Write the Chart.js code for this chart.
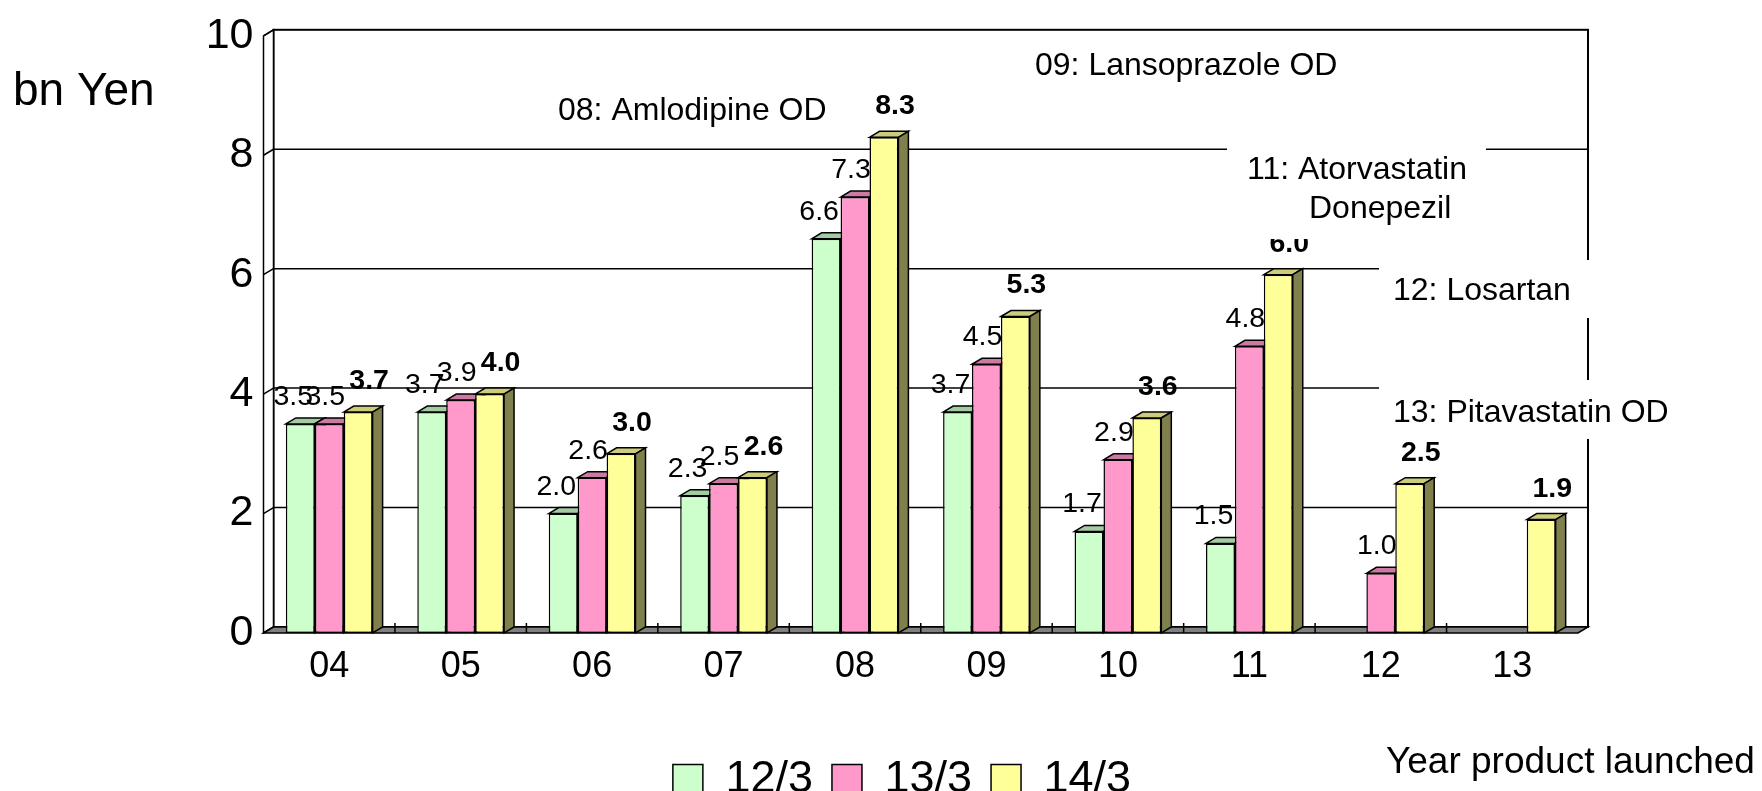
<!DOCTYPE html>
<html>
<head>
<meta charset="utf-8">
<title>Sales by launch year</title>
<script src="https://cdn.jsdelivr.net/npm/chart.js@4.4.0/dist/chart.umd.min.js"></script>
<style>
  html, body { margin: 0; padding: 0; background: #fff; overflow: hidden; }
  #wrap { width: 1762px; height: 812px; position: relative; }
</style>
</head>
<body>
<div id="wrap"><canvas id="chart"></canvas></div>
<script>
// datos
const categories = ['04', '05', '06', '07', '08', '09', '10', '11', '12', '13'];
const seriesNames = ['12/3', '13/3', '14/3'];
const fy12 = [3.5, 3.7, 2.0, 2.3, 6.6, 3.7, 1.7, 1.5, null, null];
const fy13 = [3.5, 3.9, 2.6, 2.5, 7.3, 4.5, 2.9, 4.8, 1.0, null];
const fy14 = [3.7, 4.0, 3.0, 2.6, 8.3, 5.3, 3.6, 6.0, 2.5, 1.9];
const yTicks = [0, 2, 4, 6, 8, 10];

// colores: frente, tapa, lateral
const fronts = ['#CCFFCC', '#FF99CC', '#FFFF99'];
const tops = ['#A3CCA3', '#CC7AA3', '#CCCC7A'];
const sides = ['#668066', '#804D66', '#80804D'];

const FONT = "'Liberation Sans', Arial, Helvetica, sans-serif";
const DX = 10, DY = 6;            // profundidad 3D
const labelShift = [-7, -4, 11];  // desplazamiento horizontal de etiquetas por serie
const labelLift = [19, 19, 23];   // altura de la etiqueta sobre la barra

// cuadros de texto
const notes = [
  { box: [536, 77, 270, 56], lines: [['08: Amlodipine OD', 558, 119.5]] },
  { box: [1013, 33, 350, 57], lines: [['09: Lansoprazole OD', 1035, 74.5]] },
  { box: [1227, 138, 259, 101], lines: [['11: Atorvastatin', 1247, 179], ['Donepezil', 1309, 217.5]] },
  { box: [1379, 260, 219, 58], lines: [['12: Losartan', 1393, 300]] },
  { box: [1379, 380, 310, 59], lines: [['13: Pitavastatin OD', 1393, 422]] }
];

function poly(ctx, pts, fill) {
  ctx.beginPath();
  ctx.moveTo(pts[0][0], pts[0][1]);
  for (let k = 1; k < pts.length; k++) ctx.lineTo(pts[k][0], pts[k][1]);
  ctx.closePath();
  if (fill) { ctx.fillStyle = fill; ctx.fill(); }
  ctx.stroke();
}

function line(ctx, x1, y1, x2, y2) {
  ctx.beginPath();
  ctx.moveTo(x1, y1);
  ctx.lineTo(x2, y2);
  ctx.stroke();
}

const box3d = {
  id: 'box3d',
  afterLayout(chart) {
    // leyenda un poco a la derecha, como en el original
    if (chart.legend) {
      chart.legend.left += 14;
      chart.legend.right += 14;
    }
  },
  beforeDatasetsDraw(chart) {
    const { ctx, chartArea: a, scales: { x, y } } = chart;
    const y0 = y.getPixelForValue(0), y10 = y.getPixelForValue(10);
    ctx.save();
    ctx.strokeStyle = '#000';
    ctx.lineWidth = 2;
    // pared del fondo
    ctx.strokeRect(a.left + DX, y10 - DY, a.right - a.left, y0 - y10);
    ctx.lineWidth = 1.5;
    yTicks.forEach(v => {
      if (v > 0 && v < 10) {
        const py = y.getPixelForValue(v) - DY;
        line(ctx, a.left + DX, py, a.right + DX, py);
      }
    });
    // pared izquierda
    poly(ctx, [[a.left, y10], [a.left + DX, y10 - DY], [a.left + DX, y0 - DY], [a.left, y0]], '#fff');
    yTicks.forEach(v => {
      const py = y.getPixelForValue(v);
      line(ctx, a.left, py, a.left + DX, py - DY);
    });
    // piso
    poly(ctx, [[a.left, y0], [a.left + DX, y0 - DY], [a.right + DX, y0 - DY], [a.right, y0]], '#808080');
    for (let i = 1; i < categories.length; i++) {
      const xb = (x.getPixelForValue(i - 1) + x.getPixelForValue(i)) / 2;
      line(ctx, xb, y0 - DY - 4, xb, y0);
    }
    // caras 3D y etiquetas
    ctx.lineWidth = 1.5;
    for (let i = 0; i < categories.length; i++) {
      chart.data.datasets.forEach((ds, d) => {
        const v = ds.data[i];
        if (v === null || v === undefined) return;
        const el = chart.getDatasetMeta(d).data[i];
        const xl = el.x - el.width / 2, xr = el.x + el.width / 2;
        const t = el.y, b = el.base;
        poly(ctx, [[xl, t], [xl + DX, t - DY], [xr + DX, t - DY], [xr, t]], tops[d]);
        poly(ctx, [[xr, t], [xr + DX, t - DY], [xr + DX, b - DY], [xr, b]], sides[d]);
        ctx.fillStyle = '#000';
        ctx.font = (d === 2 ? 'bold ' : '') + '28.5px ' + FONT;
        ctx.textAlign = 'center';
        ctx.textBaseline = 'alphabetic';
        ctx.fillText(v.toFixed(1), el.x + labelShift[d], t - labelLift[d]);
      });
    }
    ctx.restore();
  },
  afterDatasetsDraw(chart) {
    const { ctx } = chart;
    ctx.save();
    ctx.textAlign = 'left';
    ctx.textBaseline = 'alphabetic';
    notes.forEach(n => {
      ctx.fillStyle = '#fff';
      ctx.fillRect(n.box[0], n.box[1], n.box[2], n.box[3]);
      ctx.fillStyle = '#000';
      ctx.font = '32px ' + FONT;
      n.lines.forEach(l => ctx.fillText(l[0], l[1], l[2]));
    });
    ctx.fillStyle = '#000';
    ctx.font = '46px ' + FONT;
    ctx.fillText('bn Yen', 13, 105);
    ctx.font = '37px ' + FONT;
    ctx.fillText('Year product launched', 1386, 773);
    ctx.restore();
  }
};

const data1 = {
  labels: categories,
  datasets: [fy12, fy13, fy14].map((vals, d) => ({
    label: seriesNames[d],
    data: vals,
    backgroundColor: fronts[d],
    borderColor: '#000',
    borderWidth: 1.5,
    borderSkipped: false
  }))
};

const options1 = {
  responsive: true,
  maintainAspectRatio: false,
  animation: false,
  layout: { padding: { left: 198, right: 184, top: 31.7, bottom: 0 } },
  datasets: { bar: { categoryPercentage: 0.66, barPercentage: 1.0 } },
  scales: {
    x: {
      grid: { display: false, drawTicks: false },
      border: { display: false },
      ticks: { color: '#000', font: { family: FONT, size: 36 }, padding: 12, maxRotation: 0 },
      afterFit(scale) { scale.height = 105; }
    },
    y: {
      min: 0,
      max: 10,
      grid: { display: false, drawTicks: false },
      border: { display: false },
      ticks: { color: '#000', font: { family: FONT, size: 43 }, padding: 10 },
      afterBuildTicks(scale) { scale.ticks = yTicks.map(v => ({ value: v })); },
      afterFit(scale) { scale.width = 65.5; }
    }
  },
  plugins: {
    legend: {
      position: 'bottom',
      labels: {
        color: '#000',
        font: { family: FONT, size: 45 },
        boxWidth: 30,
        boxHeight: 30,
        padding: 19,
        sort: (a, b) => a.datasetIndex - b.datasetIndex
      }
    },
    tooltip: { enabled: false }
  }
};

const grafico = new Chart(document.getElementById('chart'), {
  type: 'bar',
  data: data1,
  options: options1,
  plugins: [box3d]
});
</script>
</body>
</html>
